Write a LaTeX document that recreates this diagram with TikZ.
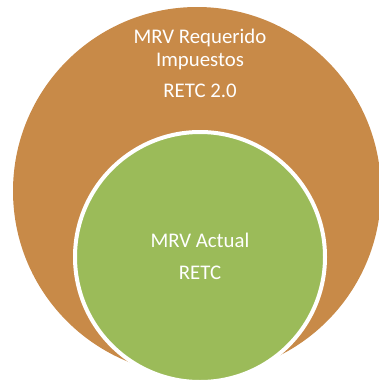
\documentclass[tikz,border=0pt]{standalone}
\usepackage{fontspec}
\setmainfont{Carlito}
\usepackage{tikz}
\usetikzlibrary{shapes,calc}
\definecolor{ringbrown}{HTML}{C88A48}
\definecolor{coregreen}{HTML}{9BBB59}

\begin{document}
\begin{tikzpicture}[x=1pt,y=-1pt]
    \tikzstyle{ring}=[
      circle,
      fill=ringbrown,
      anchor=center,
      minimum size=368pt,
    ]
    \tikzstyle{core}=[
      circle,
      fill=coregreen,
      draw=white,
      line width=4pt,
      anchor=center,
      minimum size=250pt,
    ]
    \tikzstyle{label}=[
      text=white,
      anchor=base,
      inner sep=0pt,
      font=\fontsize{20.8}{25}\selectfont,
    ]
    \useasboundingbox (0,0) rectangle (378,380);

    \node[ring] (nRequired) at (197,191) {};
    \node[core] (nActual) at (200,257) {};

    \node[label] (tRequired) at (200,43) {MRV Requerido};
    \node[label] (tTaxes) at (200,66) {Impuestos};
    \node[label] (tRetcTwo) at (200,97) {RETC 2.0};
    \node[label] (tActual) at (200,247) {MRV Actual};
    \node[label] (tRetc) at (200,279) {RETC};
  \end{tikzpicture}
\end{document}
